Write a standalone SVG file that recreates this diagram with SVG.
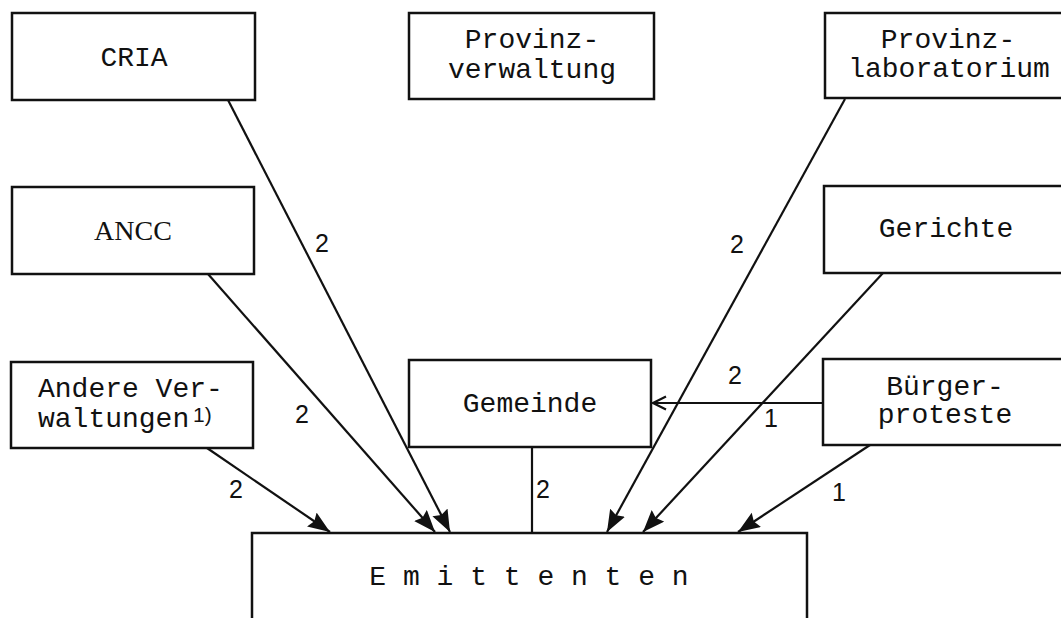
<svg xmlns="http://www.w3.org/2000/svg" width="1061" height="618" viewBox="0 0 1061 618">
<style>
.box{fill:#fff;stroke:#111;stroke-width:2.5}
.t{font-family:"Liberation Mono","DejaVu Sans Mono",monospace;font-size:28px;fill:#111}
.n{font-family:"Liberation Sans",Arial,sans-serif;font-size:25px;fill:#111}
.c{stroke:#111;stroke-width:2.2;fill:none}
</style>
<defs>
<marker id="ah" markerUnits="userSpaceOnUse" markerWidth="24" markerHeight="18" refX="22" refY="8.5" orient="auto">
<path d="M0,0 L22,8.5 L0,17 L3,8.5 z" fill="#111"/>
</marker>
<marker id="oa" markerUnits="userSpaceOnUse" markerWidth="16" markerHeight="16" refX="14" refY="8" orient="auto">
<path d="M1,1.5 L14,8 L1,14.5" fill="none" stroke="#111" stroke-width="2.2"/>
</marker>
</defs>
<g id="connectors">
<line class="c" x1="228" y1="100" x2="450" y2="532" marker-end="url(#ah)"/>
<line class="c" x1="208" y1="274" x2="435" y2="532" marker-end="url(#ah)"/>
<line class="c" x1="207" y1="448" x2="330" y2="532" marker-end="url(#ah)"/>
<line class="c" x1="845" y1="99" x2="607" y2="532" marker-end="url(#ah)"/>
<line class="c" x1="883" y1="273" x2="643" y2="532" marker-end="url(#ah)"/>
<line class="c" x1="870" y1="445" x2="738" y2="532" marker-end="url(#ah)"/>
<line class="c" x1="532" y1="447" x2="532" y2="533"/>
<line class="c" x1="823" y1="403" x2="653" y2="403" marker-end="url(#oa)"/>
<text class="n" x="315" y="252">2</text>
<text class="n" x="295" y="423">2</text>
<text class="n" x="229" y="498">2</text>
<text class="n" x="536" y="498">2</text>
<text class="n" x="730" y="253">2</text>
<text class="n" x="728" y="384">2</text>
<text class="n" x="764" y="427">1</text>
<text class="n" x="832" y="501">1</text>
</g>
<g id="cria">
<rect class="box" x="12" y="13" width="243" height="87"/>
<text class="t" x="134" y="66" text-anchor="middle">CRIA</text>
</g>
<g id="provinzverwaltung">
<rect class="box" x="409" y="13" width="245" height="86"/>
<text class="t" x="532" y="48" text-anchor="middle">Provinz-</text>
<text class="t" x="532" y="78" text-anchor="middle">verwaltung</text>
</g>
<g id="provinzlaboratorium">
<rect class="box" x="825" y="13" width="250" height="85"/>
<text class="t" x="948" y="48" text-anchor="middle">Provinz-</text>
<text class="t" x="949" y="77" text-anchor="middle">laboratorium</text>
</g>
<g id="ancc">
<rect class="box" x="12" y="187" width="242" height="87"/>
<text x="133" y="240" text-anchor="middle" style="font-family:'Liberation Serif','Times New Roman',serif;font-size:28px;fill:#111">ANCC</text>
</g>
<g id="gerichte">
<rect class="box" x="824" y="186" width="250" height="87"/>
<text class="t" x="946" y="237" text-anchor="middle">Gerichte</text>
</g>
<g id="andere">
<rect class="box" x="11" y="362" width="242" height="86"/>
<text class="t" x="38" y="397">Andere Ver-</text>
<text class="t" x="38" y="427">waltungen</text>
<text x="193" y="422" style="font-family:'Liberation Sans',Arial,sans-serif;font-size:21px;fill:#111">1)</text>
</g>
<g id="gemeinde">
<rect class="box" x="409" y="360" width="242" height="87"/>
<text class="t" x="530" y="412" text-anchor="middle">Gemeinde</text>
</g>
<g id="buergerproteste">
<rect class="box" x="823" y="359" width="250" height="86"/>
<text class="t" x="945" y="395" text-anchor="middle">Bürger-</text>
<text class="t" x="945" y="423" text-anchor="middle">proteste</text>
</g>
<g id="emittenten">
<rect class="box" x="252" y="533" width="555" height="110"/>
<text class="t" x="529" y="585" text-anchor="middle">E m i t t e n t e n</text>
</g>
</svg>
